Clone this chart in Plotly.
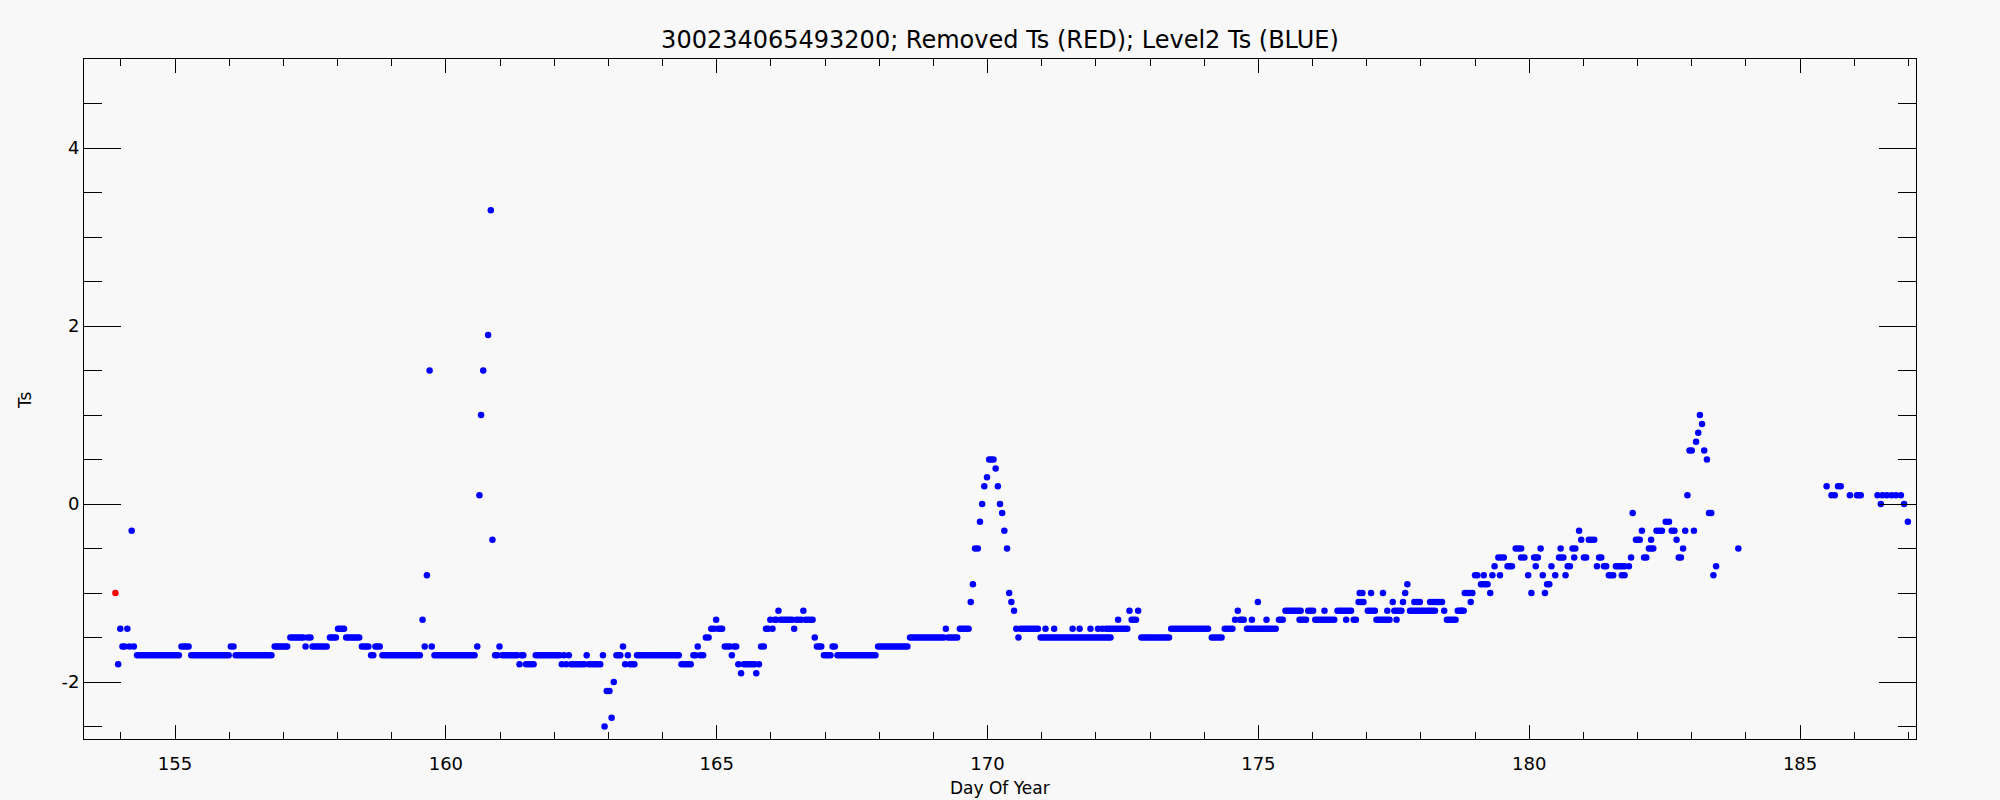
import math
import plotly.graph_objects as go

TITLE = "300234065493200; Removed Ts (RED); Level2 Ts (BLUE)"
X_TITLE = "Day Of Year"
Y_TITLE = "Ts"

X_TICKS = [155, 160, 165, 170, 175, 180, 185]
Y_TICKS = [-2, 0, 2, 4]
Y_TICK_TEXT = ["-2", "0", "2", "4"]

# Removed Ts (red)
RED_DAY = [153.90]
RED_TS = [-1.0]

# Level2 Ts (blue): hourly runs at constant value (start day, end day, value)
RUN_START = [154.03, 154.30, 155.12, 155.30, 156.03, 156.12, 156.84, 157.13, 157.45, 157.54,
             157.86, 158.01, 158.16, 158.45, 158.62, 158.70, 158.83, 159.79, 160.91, 161.04,
             161.40, 161.48, 161.66, 162.31, 162.64, 162.97, 163.15, 163.40, 163.53, 164.35,
             164.57, 164.70, 164.80, 164.90, 165.03, 165.15, 165.32, 165.50, 165.82, 165.91,
             166.07, 166.18, 166.47, 166.64, 166.85, 166.98, 167.14, 167.23, 167.98, 168.57,
             169.27, 169.49, 169.77, 170.03, 170.61, 170.98, 172.19, 172.66, 172.84, 173.39,
             174.14, 174.38, 174.66, 174.79, 175.38, 175.50, 175.76, 175.92, 176.05, 176.46,
             176.76, 176.85, 176.87, 177.02, 177.18, 177.51, 177.80, 177.88, 178.17, 178.48,
             178.68, 178.81, 179.00, 179.11, 179.43, 179.60, 179.75, 179.85, 180.09, 180.33,
             180.55, 180.71, 180.80, 181.01, 181.10, 181.29, 181.38, 181.47, 181.60, 181.71,
             181.97, 182.12, 182.21, 182.35, 182.52, 182.63, 182.76, 182.96, 183.32, 185.58,
             185.70, 186.05]
RUN_END = [154.07, 155.07, 155.25, 155.99, 156.08, 156.78, 157.07, 157.37, 157.50, 157.80,
           157.97, 158.12, 158.40, 158.57, 158.66, 158.78, 159.52, 160.53, 160.95, 161.32,
           161.43, 161.62, 162.10, 162.56, 162.85, 163.02, 163.22, 163.48, 164.30, 164.52,
           164.61, 164.75, 164.85, 164.95, 165.10, 165.24, 165.36, 165.70, 165.87, 165.95,
           166.10, 166.39, 166.56, 166.77, 166.93, 167.10, 167.18, 167.93, 168.52, 169.19,
           169.44, 169.65, 169.82, 170.11, 170.93, 172.27, 172.58, 172.74, 173.35, 174.07,
           174.32, 174.52, 174.73, 175.32, 175.45, 175.78, 175.88, 176.01, 176.40, 176.71,
           176.80, 176.94, 176.92, 177.15, 177.42, 177.64, 178.26, 177.98, 178.39, 178.64,
           178.79, 178.95, 179.04, 179.23, 179.53, 179.68, 179.85, 179.91, 180.16, 180.37,
           180.63, 180.75, 180.85, 181.05, 181.20, 181.33, 181.42, 181.55, 181.76, 181.76,
           182.04, 182.16, 182.29, 182.45, 182.58, 182.68, 182.80, 183.00, 183.36, 185.64,
           185.75, 186.12]
RUN_TS = [-1.6, -1.7, -1.6, -1.7, -1.6, -1.7, -1.6, -1.5, -1.5, -1.6,
          -1.5, -1.4, -1.5, -1.6, -1.7, -1.6, -1.7, -1.7, -1.7, -1.7,
          -1.7, -1.8, -1.7, -1.8, -1.8, -2.1, -1.7, -1.8, -1.7, -1.8,
          -1.7, -1.7, -1.5, -1.4, -1.4, -1.6, -1.6, -1.8, -1.6, -1.4,
          -1.3, -1.3, -1.3, -1.3, -1.6, -1.7, -1.6, -1.7, -1.6, -1.5,
          -1.5, -1.4, -0.5, 0.5, -1.4, -1.5, -1.4, -1.3, -1.5, -1.4,
          -1.5, -1.4, -1.3, -1.4, -1.3, -1.2, -1.3, -1.2, -1.3, -1.2,
          -1.3, -1.1, -1.0, -1.2, -1.3, -1.2, -1.2, -1.1, -1.1, -1.3,
          -1.2, -1.0, -0.8, -0.9, -0.6, -0.7, -0.5, -0.6, -0.6, -0.9,
          -0.6, -0.7, -0.5, -0.6, -0.4, -0.6, -0.7, -0.8, -0.7, -0.8,
          -0.4, -0.6, -0.5, -0.3, -0.2, -0.3, -0.6, 0.6, -0.1, 0.1,
          0.2, 0.1]

# Level2 Ts (blue): isolated samples
DOT_DAY = [153.95, 153.99, 154.12, 154.16, 154.20, 154.24, 157.41, 159.57, 159.61, 159.65,
           159.70, 159.74, 160.58, 160.62, 160.65, 160.69, 160.78, 160.83, 160.86, 160.99,
           161.36, 162.14, 162.18, 162.22, 162.27, 162.60, 162.90, 162.93, 163.06, 163.10,
           163.27, 163.31, 163.36, 164.65, 164.99, 165.28, 165.40, 165.45, 165.73, 165.78,
           165.99, 166.03, 166.14, 166.43, 166.60, 166.81, 169.23, 169.69, 169.73, 169.86,
           169.90, 169.94, 169.99, 170.15, 170.19, 170.23, 170.27, 170.31, 170.36, 170.40,
           170.44, 170.49, 170.53, 170.57, 171.07, 171.23, 171.57, 171.70, 171.90, 172.04,
           172.12, 172.41, 172.62, 172.78, 174.57, 174.62, 174.88, 174.99, 175.15, 176.22,
           176.62, 177.08, 177.30, 177.38, 177.48, 177.55, 177.67, 177.71, 177.75, 178.43,
           178.92, 178.75, 179.16, 179.28, 179.32, 179.36, 179.46, 179.98, 180.04, 180.12,
           180.21, 180.25, 180.29, 180.41, 180.48, 180.58, 180.67, 180.83, 180.92, 180.96,
           181.25, 181.84, 181.88, 181.91, 182.08, 182.25, 182.72, 182.84, 182.88, 182.92,
           183.04, 183.08, 183.12, 183.15, 183.19, 183.23, 183.28, 183.40, 183.45, 183.86,
           185.49, 185.92, 186.43, 186.49, 186.52, 186.60, 186.69, 186.77, 186.86, 186.92,
           186.99]
DOT_TS = [-1.8, -1.4, -1.4, -1.6, -0.3, -1.6, -1.6, -1.3, -1.6, -0.8,
          1.5, -1.6, -1.6, 0.1, 1.0, 1.5, 1.9, 3.3, -0.4, -1.6,
          -1.8, -1.8, -1.7, -1.8, -1.7, -1.7, -1.7, -2.5, -2.4, -2.0,
          -1.6, -1.8, -1.7, -1.6, -1.3, -1.7, -1.8, -1.9, -1.9, -1.8,
          -1.3, -1.4, -1.2, -1.4, -1.2, -1.5, -1.4, -1.1, -0.9, -0.2,
          0.0, 0.2, 0.3, 0.4, 0.2, 0.0, -0.1, -0.3, -0.5, -1.0,
          -1.1, -1.2, -1.4, -1.5, -1.4, -1.4, -1.4, -1.4, -1.4, -1.4,
          -1.4, -1.3, -1.2, -1.2, -1.3, -1.2, -1.3, -1.1, -1.3, -1.2,
          -1.3, -1.0, -1.0, -1.2, -1.1, -1.3, -1.1, -1.0, -0.9, -1.2,
          -1.1, -1.2, -0.8, -1.0, -0.8, -0.7, -0.8, -0.8, -1.0, -0.7,
          -0.5, -0.8, -1.0, -0.7, -0.8, -0.5, -0.8, -0.6, -0.3, -0.4,
          -0.7, -0.7, -0.6, -0.1, -0.3, -0.4, -0.4, -0.5, -0.3, 0.1,
          -0.3, 0.7, 0.8, 1.0, 0.9, 0.6, 0.5, -0.8, -0.7, -0.5,
          0.2, 0.1, 0.1, 0.0, 0.1, 0.1, 0.1, 0.1, 0.1, 0.0,
          -0.2]

# build the blue sample table from runs (hourly samples) and isolated samples
blue_x, blue_y = [], []
for s, e, v in zip(RUN_START, RUN_END, RUN_TS):
    n = int(round((e - s) * 24)) + 1
    for k in range(n):
        blue_x.append(s + (e - s) * (k / (n - 1) if n > 1 else 0))
        blue_y.append(v)
blue_x += DOT_DAY
blue_y += DOT_TS

BG = "#f8f8f8"
FONT = "DejaVu Sans"

fig = go.Figure()
fig.add_trace(go.Scatter(x=blue_x, y=blue_y, mode="markers",
                         marker=dict(color="#0000ff", size=6.5, line=dict(width=0)),
                         showlegend=False, hoverinfo="x+y"))
fig.add_trace(go.Scatter(x=RED_DAY, y=RED_TS, mode="markers",
                         marker=dict(color="#ff0000", size=6.5, line=dict(width=0)),
                         showlegend=False, hoverinfo="x+y"))

axis_common = dict(showgrid=False, zeroline=False, showline=True, linecolor="black",
                   linewidth=1, mirror="allticks", ticks="inside", tickcolor="black",
                   tickwidth=1, tickfont=dict(family=FONT, size=18, color="black"))

fig.update_layout(
    width=2000, height=800,
    paper_bgcolor=BG, plot_bgcolor=BG,
    margin=dict(l=84, r=84, t=59, b=61),
    title=dict(text=TITLE, x=0.5, xanchor="center", y=1 - 40 / 800, yanchor="middle",
               font=dict(family=FONT, size=24, color="black")),
    xaxis=dict(range=[153.32, 187.14], tickvals=X_TICKS, ticklen=14,
               minor=dict(dtick=1, tick0=0, ticklen=7, ticks="inside", tickcolor="black"),
               ticklabelstandoff=8, **axis_common),
    yaxis=dict(range=[-2.64, 5.0], tickvals=Y_TICKS, ticktext=Y_TICK_TEXT, ticklen=37,
               minor=dict(dtick=0.5, tick0=0, ticklen=18, ticks="inside", tickcolor="black"),
               **axis_common),
    annotations=[
        dict(text=X_TITLE, xref="paper", yref="paper", x=0.5, y=-49 / 680,
             xanchor="center", yanchor="middle", showarrow=False,
             font=dict(family=FONT, size=17, color="black")),
        dict(text=Y_TITLE, xref="paper", yref="paper", x=(25 - 84) / 1832, y=0.4985,
             xanchor="center", yanchor="middle", showarrow=False, textangle=-90,
             font=dict(family=FONT, size=17, color="black")),
    ],
)

fig.write_html(
    "out.html",
    config={"displayModeBar": False},
    post_script="document.body.style.margin='0';document.body.style.background='#f8f8f8';",
)
